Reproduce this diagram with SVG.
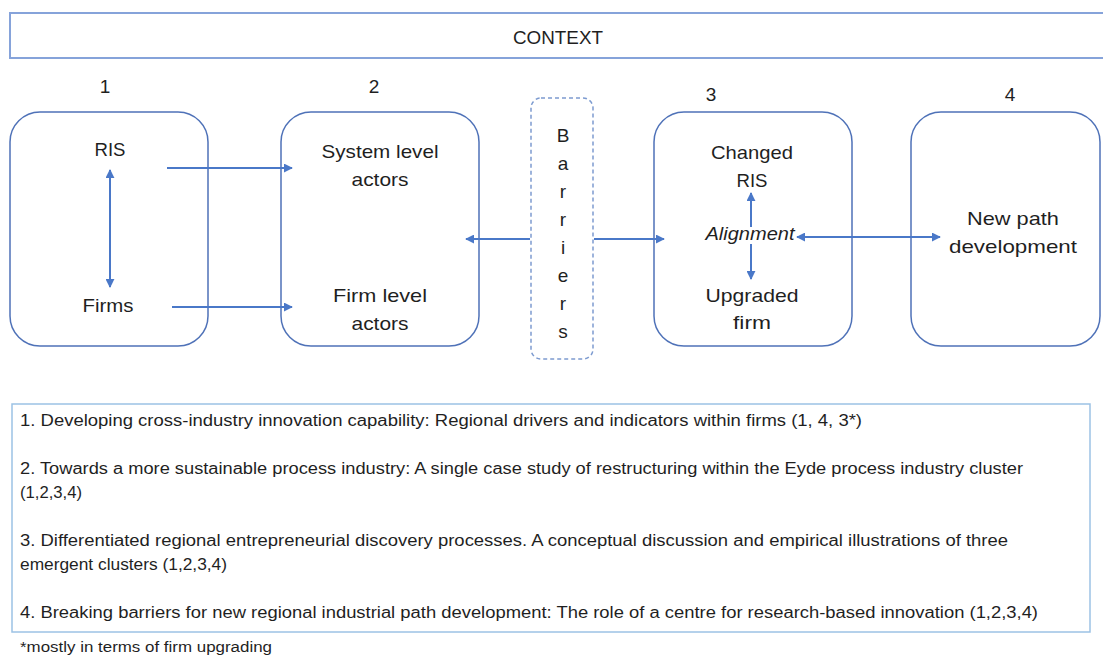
<svg xmlns="http://www.w3.org/2000/svg" width="1103" height="656" viewBox="0 0 1103 656">
<style>
  .lbl { font-family: "Liberation Sans", Arial, sans-serif; font-size: 19px; fill: #1f1f1f; text-anchor: middle; }
  .it { font-style: italic; }
  .body { font-family: "Liberation Sans", Arial, sans-serif; font-size: 16px; fill: #1f1f1f; }
  .foot { font-family: "Liberation Sans", Arial, sans-serif; font-size: 14px; fill: #1f1f1f; }
  .box { fill: #ffffff; stroke: #4f72b8; stroke-width: 1.5; }
  .dash { fill: #ffffff; stroke: #7d9bd0; stroke-width: 1.5; stroke-dasharray: 4 3; }
  .conn { fill: none; stroke: #4a78c8; stroke-width: 2; }
</style>
<defs>
  <marker id="ah" viewBox="0 0 10 10" refX="9" refY="5" markerWidth="4.5" markerHeight="4.5" orient="auto-start-reverse" markerUnits="strokeWidth">
    <path d="M0,0 L10,5 L0,10 z" fill="#4a78c8"/>
  </marker>
</defs>
<rect width="1103" height="656" fill="#ffffff"/>

<g id="context">
  <rect x="10" y="13" width="1095" height="45" fill="#ffffff" stroke="#86a3da" stroke-width="2"/>
  <text class="lbl" x="558" y="44" textLength="90" lengthAdjust="spacingAndGlyphs">CONTEXT</text>
</g>

<g id="numbers">
  <text class="lbl" x="105" y="93">1</text>
  <text class="lbl" x="374" y="93">2</text>
  <text class="lbl" x="711" y="101">3</text>
  <text class="lbl" x="1010" y="101">4</text>
</g>

<g id="box1">
  <rect class="box" x="10" y="112" width="198" height="234" rx="30" ry="30"/>
  <text class="lbl" x="110" y="156" textLength="31" lengthAdjust="spacingAndGlyphs">RIS</text>
  <text class="lbl" x="108" y="312" textLength="51" lengthAdjust="spacingAndGlyphs">Firms</text>
</g>

<g id="box2">
  <rect class="box" x="281" y="112" width="198" height="234" rx="30" ry="30"/>
  <text class="lbl" x="380" y="158" textLength="117" lengthAdjust="spacingAndGlyphs">System level</text>
  <text class="lbl" x="380" y="186" textLength="57" lengthAdjust="spacingAndGlyphs">actors</text>
  <text class="lbl" x="380" y="302" textLength="94" lengthAdjust="spacingAndGlyphs">Firm level</text>
  <text class="lbl" x="380" y="330" textLength="57" lengthAdjust="spacingAndGlyphs">actors</text>
</g>

<g id="barriers">
  <rect class="dash" x="531" y="98" width="62" height="261" rx="10" ry="10"/>
  <text class="lbl" x="563" y="142">B</text>
  <text class="lbl" x="563" y="170">a</text>
  <text class="lbl" x="563" y="198">r</text>
  <text class="lbl" x="563" y="226">r</text>
  <text class="lbl" x="563" y="254">i</text>
  <text class="lbl" x="563" y="282">e</text>
  <text class="lbl" x="563" y="310">r</text>
  <text class="lbl" x="563" y="338">s</text>
</g>

<g id="box3">
  <rect class="box" x="654" y="112" width="198" height="234" rx="30" ry="30"/>
  <text class="lbl" x="752" y="159" textLength="82" lengthAdjust="spacingAndGlyphs">Changed</text>
  <text class="lbl" x="752" y="187" textLength="31" lengthAdjust="spacingAndGlyphs">RIS</text>
  <text class="lbl it" x="750" y="240" textLength="89" lengthAdjust="spacingAndGlyphs">Alignment</text>
  <text class="lbl" x="752" y="302" textLength="93" lengthAdjust="spacingAndGlyphs">Upgraded</text>
  <text class="lbl" x="752" y="329" textLength="38" lengthAdjust="spacingAndGlyphs">firm</text>
</g>

<g id="box4">
  <rect class="box" x="911" y="112" width="189" height="234" rx="30" ry="30"/>
  <text class="lbl" x="1013" y="225" textLength="92" lengthAdjust="spacingAndGlyphs">New path</text>
  <text class="lbl" x="1013" y="253" textLength="128" lengthAdjust="spacingAndGlyphs">development</text>
</g>

<g id="connectors">
  <line class="conn" x1="110" y1="170" x2="110" y2="287" marker-start="url(#ah)" marker-end="url(#ah)"/>
  <line class="conn" x1="167" y1="168" x2="292" y2="168" marker-end="url(#ah)"/>
  <line class="conn" x1="172" y1="307" x2="292" y2="307" marker-end="url(#ah)"/>
  <line class="conn" x1="530" y1="239" x2="466" y2="239" marker-end="url(#ah)"/>
  <line class="conn" x1="594" y1="239" x2="664" y2="239" marker-end="url(#ah)"/>
  <line class="conn" x1="751" y1="227" x2="751" y2="193" marker-end="url(#ah)"/>
  <line class="conn" x1="751" y1="244" x2="751" y2="279" marker-end="url(#ah)"/>
  <line class="conn" x1="797" y1="237" x2="940" y2="237" marker-start="url(#ah)" marker-end="url(#ah)"/>
</g>

<g id="legend">
  <rect x="12" y="404" width="1078" height="228" fill="#ffffff" stroke="#9cc2e5" stroke-width="1.5"/>
  <text class="body" x="20" y="426" textLength="842" lengthAdjust="spacingAndGlyphs">1. Developing cross-industry innovation capability: Regional drivers and indicators within firms (1, 4, 3*)</text>
  <text class="body" x="20" y="474" textLength="1003" lengthAdjust="spacingAndGlyphs">2. Towards a more sustainable process industry: A single case study of restructuring within the Eyde process industry cluster</text>
  <text class="body" x="20" y="498" textLength="62" lengthAdjust="spacingAndGlyphs">(1,2,3,4)</text>
  <text class="body" x="20" y="546" textLength="988" lengthAdjust="spacingAndGlyphs">3. Differentiated regional entrepreneurial discovery processes. A conceptual discussion and empirical illustrations of three</text>
  <text class="body" x="20" y="570" textLength="207" lengthAdjust="spacingAndGlyphs">emergent clusters (1,2,3,4)</text>
  <text class="body" x="20" y="618" textLength="1018" lengthAdjust="spacingAndGlyphs">4. Breaking barriers for new regional industrial path development: The role of a centre for research-based innovation (1,2,3,4)</text>
</g>

<g id="footnote">
  <text class="foot" x="20" y="652" textLength="252" lengthAdjust="spacingAndGlyphs">*mostly in terms of firm upgrading</text>
</g>
</svg>
